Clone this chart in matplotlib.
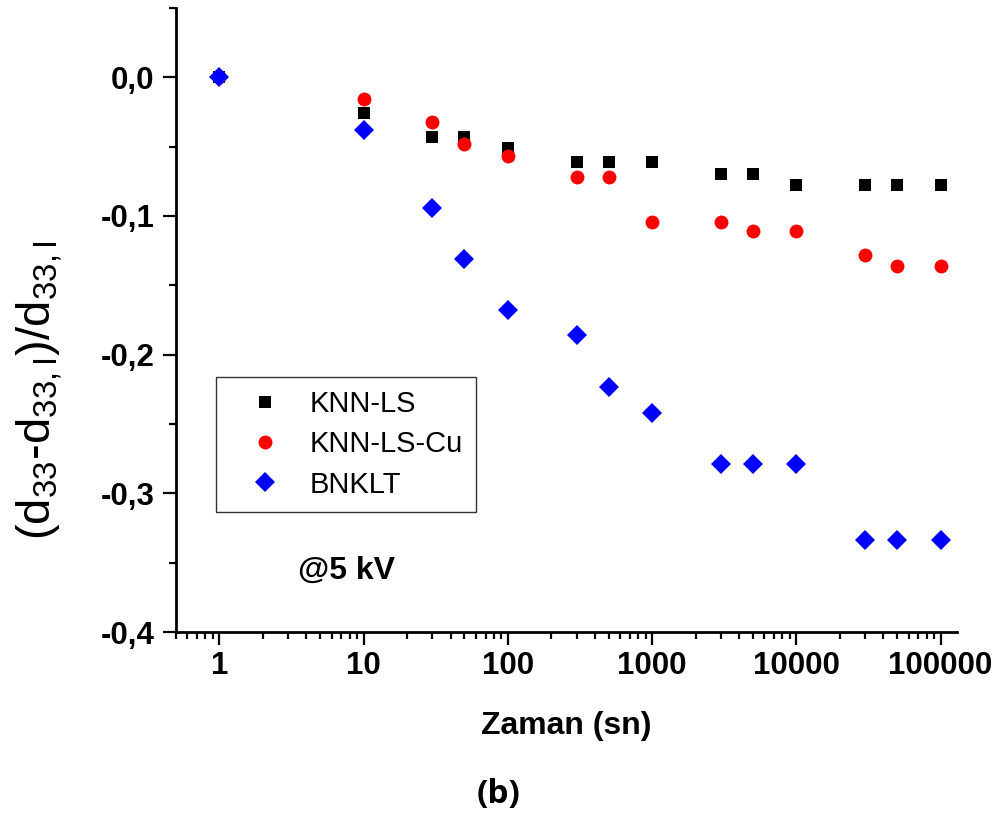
import matplotlib
matplotlib.use("Agg")
import matplotlib.pyplot as plt
from matplotlib.ticker import LogLocator, FixedLocator, MultipleLocator, FuncFormatter
import numpy as np

plt.rcParams['font.family'] = ['Liberation Sans', 'DejaVu Sans']
plt.rcParams['mathtext.fontset'] = 'custom'
plt.rcParams['mathtext.rm'] = 'Liberation Sans'
plt.rcParams['mathtext.it'] = 'Liberation Sans'

# time (s)
zaman = [1, 10, 30, 50, 100, 300, 500, 1000, 3000, 5000, 10000, 30000, 50000, 100000]

knn_ls = [0.0, -0.026, -0.043, -0.043, -0.051, -0.061, -0.061, -0.061,
          -0.070, -0.070, -0.078, -0.078, -0.078, -0.078]
knn_ls_cu = [0.0, -0.016, -0.0325, -0.048, -0.057, -0.072, -0.072, -0.104,
             -0.104, -0.111, -0.111, -0.128, -0.136, -0.136]
bnklt = [0.0, -0.038, -0.094, -0.131, -0.168, -0.186, -0.223, -0.242,
         -0.279, -0.279, -0.279, -0.334, -0.334, -0.334]

x_ticks = [1, 10, 100, 1000, 10000, 100000]
x_tick_labels = ['1', '10', '100', '1000', '10000', '100000']
y_ticks = [0.0, -0.1, -0.2, -0.3, -0.4]

fig = plt.figure(figsize=(9.99, 8.21), dpi=100)
ax = fig.add_axes([0.1762, 0.2302, 0.958 - 0.1762, 0.9903 - 0.2302])

ax.plot(zaman, knn_ls, 's', color='black', ms=9, mew=0, label='KNN-LS')
ax.plot(zaman, knn_ls_cu, 'o', color='red', ms=10, mew=0, label='KNN-LS-Cu')
ax.plot(zaman, bnklt, 'D', color='blue', ms=10.5, mew=0, label='BNKLT')

ax.set_xscale('log')
ax.set_xlim(0.5, 1.3e5)
ax.set_ylim(-0.4, 0.05)

ax.xaxis.set_major_locator(FixedLocator(x_ticks))
ax.xaxis.set_major_formatter(FuncFormatter(lambda v, p: x_tick_labels[x_ticks.index(round(v))] if round(v) in x_ticks else ''))
ax.xaxis.set_minor_locator(LogLocator(base=10, subs=np.arange(2, 10), numticks=20))
ax.xaxis.set_minor_formatter(FuncFormatter(lambda v, p: ''))

ax.yaxis.set_major_locator(FixedLocator(y_ticks))
ax.yaxis.set_minor_locator(MultipleLocator(0.05))
ax.yaxis.set_major_formatter(FuncFormatter(lambda v, p: f'{v:.1f}'.replace('.', ',').replace('-0,0', '0,0')))

for s in ['top', 'right']:
    ax.spines[s].set_visible(False)
for s in ['left', 'bottom']:
    ax.spines[s].set_linewidth(2)

ax.tick_params(which='major', direction='out', length=9.5, width=1.6, labelsize=22.5)
ax.tick_params(which='minor', direction='out', length=5, width=1.6)
ax.tick_params(axis='x', which='major', pad=4)
ax.tick_params(axis='y', which='major', pad=6)
for lab in ax.get_xticklabels() + ax.get_yticklabels():
    lab.set_fontweight('bold')

ax.set_xlabel('Zaman (sn)', fontsize=23, fontweight='bold', labelpad=22)

fig.text(40 / 999, 1 - 390 / 821, r'$\mathregular{(d_{33}\text{-}d_{33,I})/d_{33,I}}$',
         rotation=90, ha='center', va='center', fontsize=34)

ax.text(0.218, 0.098, '@5 kV', transform=ax.transAxes, fontsize=23, fontweight='bold',
        ha='center', va='center')

fig.text(0.499, 1 - 794 / 821, '(b)', fontsize=24, fontweight='bold', ha='center', va='center',
         family=['Open Sans', 'DejaVu Sans'])

leg = ax.legend(loc='upper left', bbox_to_anchor=(0.0512, 0.4087), fontsize=21,
                frameon=True, fancybox=False, edgecolor='black', borderaxespad=0,
                handlelength=2.45, handletextpad=0.3, labelspacing=0.42, borderpad=0.45,
                markerscale=1.0)
leg.get_frame().set_linewidth(1.0)

fig.savefig('out.png', dpi=100)
